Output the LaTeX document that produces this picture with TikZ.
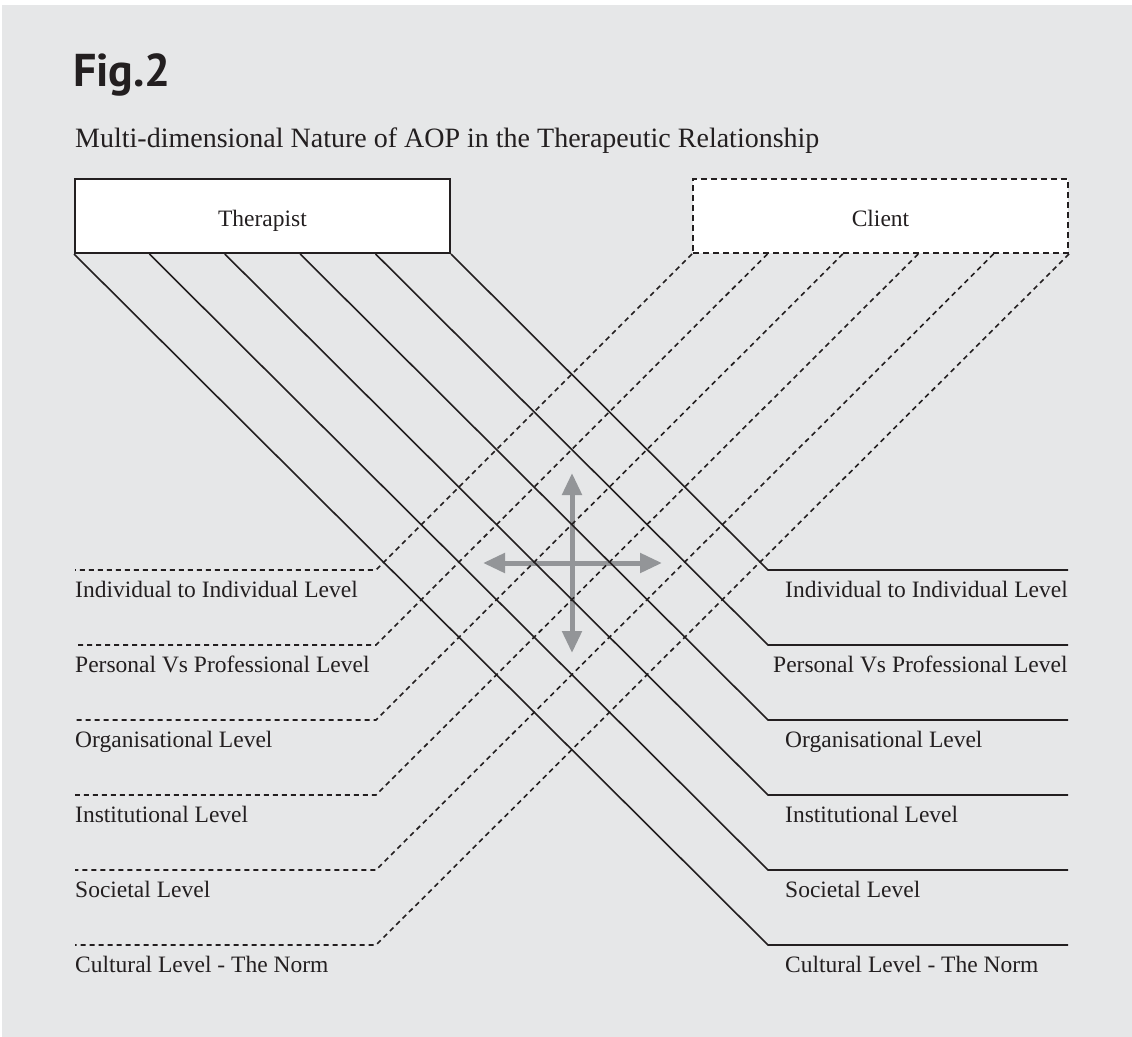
\documentclass[tikz,border=0pt]{standalone}
\usepackage{fontspec}
\setmainfont{Liberation Serif}
\newfontfamily\figfont{PT Sans}
\usetikzlibrary{arrows.meta,calc}
\definecolor{panel}{HTML}{E6E7E8}
\definecolor{ink}{HTML}{231F20}
\definecolor{cue}{HTML}{939598}
\tikzset{
  party/.style={draw=ink, fill=white, line width=2pt, minimum width=375pt,
    minimum height=74pt, inner sep=0pt, text=ink, text height=20pt,
    text depth=0pt, font=\fontsize{23.5}{28}\selectfont},
  clientbox/.style={party, dash pattern=on 6pt off 4pt},
  solidlevel/.style={draw=ink, line width=1.6pt},
  dashlevel/.style={draw=ink, line width=1.6pt, dash pattern=on 5pt off 4pt},
  levellabel/.style={anchor=base west, inner sep=0pt, text=ink,
    font=\fontsize{23.5}{28}\selectfont},
  cuearrow/.style={draw=cue, line width=5pt,
    -{Triangle[length=22pt,width=19pt]}}
}
\begin{document}
\begin{tikzpicture}[x=1pt,y=-1pt]
\useasboundingbox (0,0) rectangle (1132,1036);
\fill[white] (-10,-10) rectangle (1145,1050);
\fill[panel] (2,5) rectangle (1145,1050);

% heading
\node[anchor=base west, inner sep=0pt, text=ink,
  font=\figfont\bfseries\fontsize{46}{52}\selectfont] (fig) at (73,86) {Fig.2};
\node[anchor=base west, inner sep=0pt, text=ink,
  font=\fontsize{28}{34}\selectfont] (subtitle) at (75,147)
  {Multi-dimensional Nature of AOP in the Therapeutic Relationship};

% the two parties
\node[party] (therapist) at (262.5,216) {Therapist};
\node[clientbox] (client) at (880.5,216) {Client};

% directional cue in the middle
\coordinate (hub) at (572,563);
\coordinate (up) at (572,473);
\coordinate (down) at (572,653);
\coordinate (left) at (483,563);
\coordinate (right) at (662,563);
\draw[cuearrow] (hub) -- (up);
\draw[cuearrow] (hub) -- (down);
\draw[cuearrow] (hub) -- (left);
\draw[cuearrow] (hub) -- (right);

% level lines: k = 0 (individual) ... 5 (cultural)
\foreach \k/\name/\rx in {
  0/Individual to Individual Level/785,
  1/Personal Vs Professional Level/773,
  2/Organisational Level/785,
  3/Institutional Level/785,
  4/Societal Level/785,
  5/Cultural Level - The Norm/785} {
  \pgfmathsetmacro{\ly}{570+75*\k}
  \pgfmathsetmacro{\tf}{(5-\k)/5}
  \pgfmathsetmacro{\cf}{\k/5}
  % therapist side: solid lines to the right
  \coordinate (ts\k) at ($(therapist.south west)!\tf!(therapist.south east)$);
  \coordinate (te\k) at (768,\ly);
  \coordinate (tr\k) at (1068,\ly);
  \draw[solidlevel] (ts\k) -- (te\k) -- (tr\k);
  % client side: dashed lines to the left
  \coordinate (cs\k) at ($(client.south west)!\cf!(client.south east)$);
  \coordinate (ce\k) at (376,\ly);
  \coordinate (cl\k) at (75,\ly);
  \draw[dashlevel] (cs\k) -- (ce\k) -- (cl\k);
  % labels
  \node[levellabel] (ll\k) at (75,\ly+27) {\name};
  \node[levellabel] (rl\k) at (\rx,\ly+27) {\name};
}
\end{tikzpicture}
\end{document}
